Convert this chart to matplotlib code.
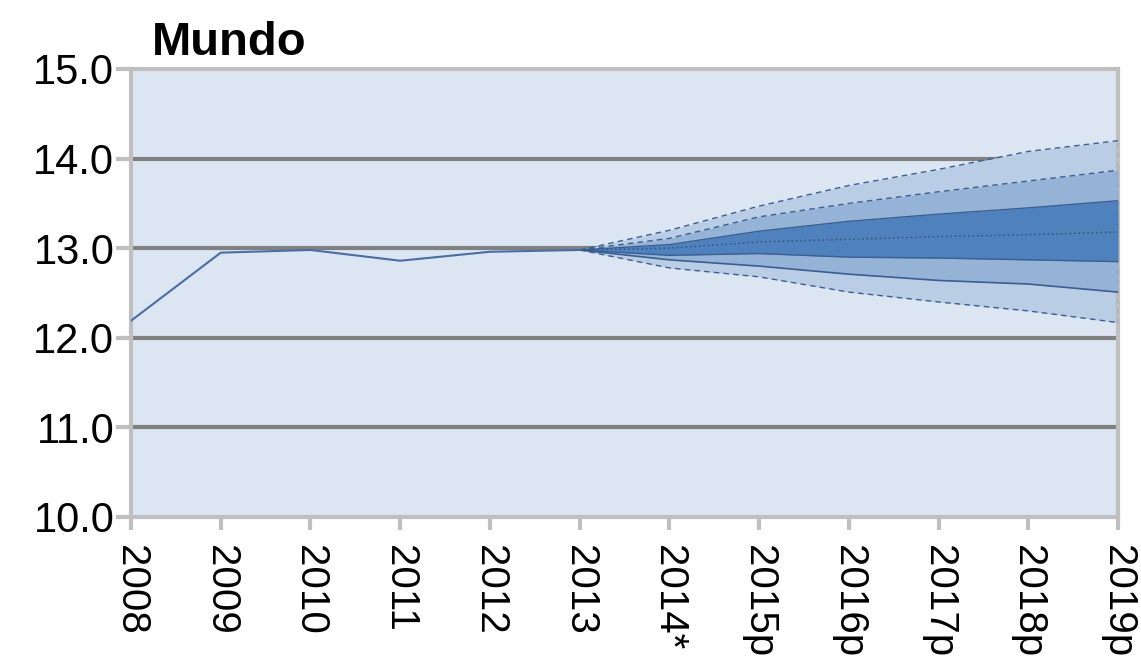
import numpy as np
import matplotlib
matplotlib.use('Agg')
from matplotlib import pyplot as plt

# Year labels along the x axis
years = ['2008', '2009', '2010', '2011', '2012', '2013',
         '2014*', '2015p', '2016p', '2017p', '2018p', '2019p']

# Observed values 2008-2013
history = [12.19, 12.95, 12.98, 12.86, 12.96, 12.98]

# Fan chart bands from 2013 (start point) to 2019p
fan_years = years[5:]
outer_hi = [12.98, 13.20, 13.47, 13.70, 13.88, 14.08, 14.20]
mid_hi = [12.98, 13.11, 13.35, 13.50, 13.63, 13.75, 13.87]
inner_hi = [12.98, 13.04, 13.19, 13.30, 13.38, 13.45, 13.53]
median = [12.98, 13.00, 13.07, 13.10, 13.13, 13.15, 13.18]
inner_lo = [12.98, 12.92, 12.94, 12.90, 12.89, 12.87, 12.85]
mid_lo = [12.98, 12.87, 12.80, 12.71, 12.64, 12.60, 12.51]
outer_lo = [12.98, 12.78, 12.68, 12.51, 12.40, 12.30, 12.17]

y_ticks = [10.0, 11.0, 12.0, 13.0, 14.0, 15.0]


def main():
    plt.rcParams['font.family'] = ['Liberation Sans', 'DejaVu Sans']
    fig = plt.figure(figsize=(11.41, 6.57), dpi=100)
    ax = fig.add_axes([0.1148, 0.2131, 0.8651, 0.6819])
    ax.set_facecolor('#DCE6F2')

    x_hist = np.arange(len(history))
    x_fan = np.arange(len(history) - 1, len(years))

    # grid lines (inside only)
    for v in y_ticks[1:-1]:
        ax.axhline(v, color='#808080', lw=3, zorder=1)

    ax.fill_between(x_fan, outer_lo, outer_hi, color='#B9CDE5', lw=0, zorder=2)
    ax.fill_between(x_fan, mid_lo, mid_hi, color='#95B3D7', lw=0, zorder=3)
    ax.fill_between(x_fan, inner_lo, inner_hi, color='#4F81BD', lw=0, zorder=4)

    edge = '#3B5F92'
    ax.plot(x_fan, outer_hi, color=edge, lw=1, ls=(0, (4, 3)), zorder=5)
    ax.plot(x_fan, outer_lo, color=edge, lw=1, ls=(0, (4, 3)), zorder=5)
    ax.plot(x_fan, mid_hi, color=edge, lw=1, ls=(0, (4, 3)), zorder=5)
    ax.plot(x_fan, mid_lo, color=edge, lw=1.2, zorder=5)
    ax.plot(x_fan, inner_hi, color=edge, lw=1, zorder=5)
    ax.plot(x_fan, inner_lo, color=edge, lw=1, zorder=5)
    ax.plot(x_fan, median, color='#34578A', lw=1.2, ls=':', zorder=5)
    ax.plot([x_fan[-1], x_fan[-1]], [outer_lo[-1], outer_hi[-1]],
            color=edge, lw=1, ls=(0, (4, 3)), zorder=5)

    ax.plot(x_hist, history, color='#4A6DA3', lw=1.5, zorder=6)

    ax.set_xlim(0, len(years) - 1)
    ax.set_ylim(10, 15)
    ax.set_xticks(np.arange(len(years)))
    ax.set_xticklabels(years, rotation=270, ha='center', va='top')
    ax.set_yticks(y_ticks)
    ax.set_yticklabels(['%.1f' % v for v in y_ticks])

    for s in ax.spines.values():
        s.set_color('#BFBFBF')
        s.set_linewidth(3)
    ax.tick_params(axis='y', length=11, width=3, color='#BFBFBF',
                   labelsize=30, pad=1)
    ax.tick_params(axis='x', length=9, width=3, color='#BFBFBF',
                   labelsize=29, pad=11)

    fig.text(152 / 1141, 1 - 55 / 657, 'Mundo', fontsize=34,
             fontweight='bold', va='baseline', ha='left')

    fig.savefig('out.png', dpi=100)


if __name__ == '__main__':
    main()
